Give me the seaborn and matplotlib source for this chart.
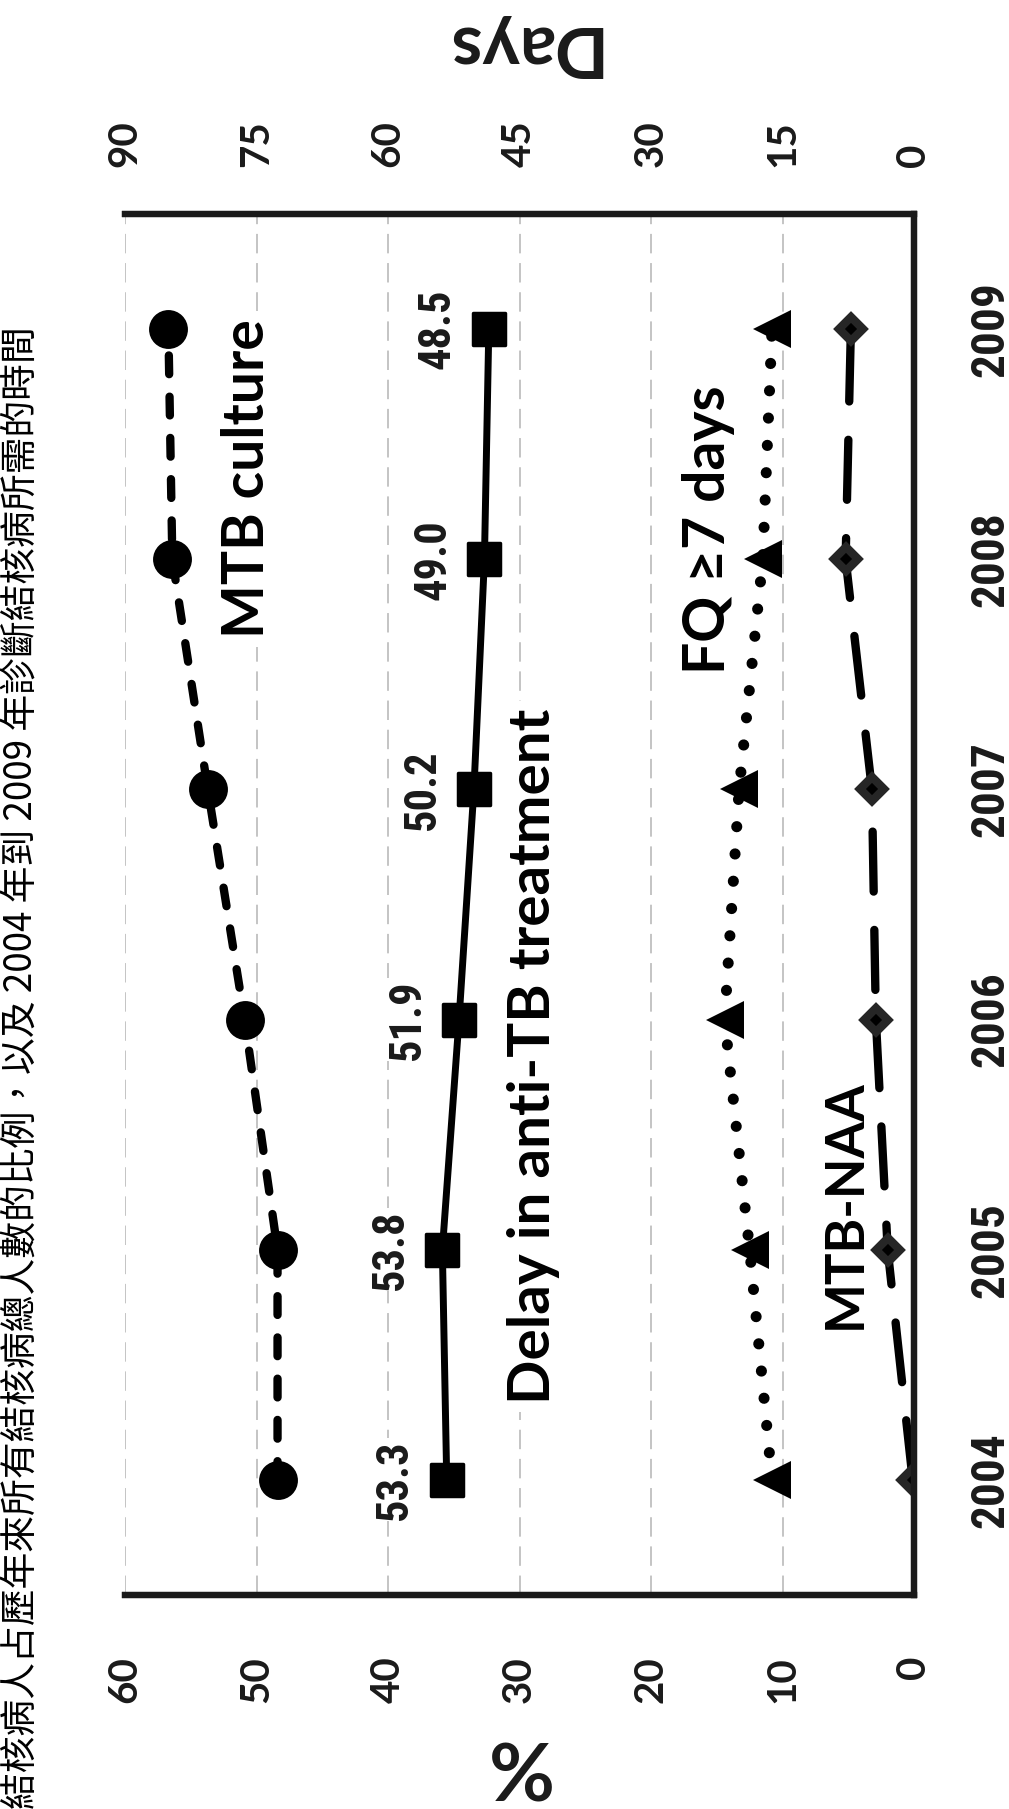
import matplotlib
matplotlib.use('Agg')
import matplotlib.pyplot as plt
import seaborn as sns
from matplotlib import font_manager
from matplotlib.markers import MarkerStyle

# Data
years = [2004, 2005, 2006, 2007, 2008, 2009]
mtb_culture = [48.4, 48.4, 50.9, 53.7, 56.4, 56.7]   # %
fq_7days = [10.8, 12.5, 14.4, 13.3, 11.5, 10.8]      # %
mtb_naa = [0.1, 2.0, 2.9, 3.2, 5.2, 4.8]             # %
delay_days = [53.3, 53.8, 51.9, 50.2, 49.0, 48.5]    # days
delay_labels = ['53.3', '53.8', '51.9', '50.2', '49.0', '48.5']
pct_ticks = [0, 10, 20, 30, 40, 50, 60]
day_ticks = [0, 15, 30, 45, 60, 75, 90]
title = '結核病人占歷年來所有結核病總人數的比例，以及 2004 年到 2009 年診斷結核病所需的時間'

sns.set_style('white')
fonts = font_manager.fontManager.ttflist
names = {f.name for f in fonts}
bold_font = 'Lato' if 'Lato' in names else 'DejaVu Sans'
plt.rcParams['font.family'] = [bold_font, 'DejaVu Sans']

# condensed font for year / value labels, if one is installed
narrow = dict(family=bold_font, fontstretch='normal')
year_size, value_size = 29, 28.5
for cand in ['Liberation Sans Narrow', 'Arial Narrow', 'Roboto Condensed',
             'Open Sans Condensed', 'Noto Sans Condensed']:
    if cand in names:
        narrow = dict(family=cand, fontstretch='normal')
        year_size, value_size = 34, 32
        break
else:
    if any(f.name == 'DejaVu Sans' and f.stretch == 'condensed' and f.weight in ('bold', 700)
           for f in fonts):
        narrow = dict(family='DejaVu Sans', fontstretch='condensed')
        year_size, value_size = 29, 29

W, H = 1009, 1809
fig = plt.figure(figsize=(W / 100, H / 100), dpi=100)
ax = fig.add_axes([125 / W, (H - 1595) / H, (914 - 125) / W, (1595 - 214) / H])

# percentage series
sns.lineplot(x=mtb_culture, y=years, orient='y', sort=False, ax=ax, color='black',
             linewidth=6, linestyle=(0, (2.25, 2.7)), dash_capstyle='round',
             marker='o', markersize=28, markerfacecolor='black',
             markeredgecolor='black', markeredgewidth=0)
sns.lineplot(x=fq_7days, y=years, orient='y', sort=False, ax=ax, color='black',
             linewidth=8, linestyle=(0, (0.01, 2.45)), dash_capstyle='round',
             marker='<', markersize=27, markerfacecolor='black',
             markeredgecolor='black', markeredgewidth=0)
sns.lineplot(x=mtb_naa, y=years, orient='y', sort=False, ax=ax, color='black',
             linewidth=6, linestyle=(0, (7.2, 4.6)), dash_capstyle='round',
             marker='D', markersize=12, markerfacecolor='black',
             markeredgecolor='#262626', markeredgewidth=6)

ax.set_xlim(60, 0)
ax.set_ylim(2003.5, 2009.5)
ax.set_xticks(pct_ticks)
ax.set_xticklabels([str(t) for t in pct_ticks], rotation=90, fontsize=29, fontweight='bold')
ax.set_yticks(years)
ax.yaxis.tick_right()
ax.set_yticklabels([str(y) for y in years], rotation=90, fontsize=year_size,
                   fontweight='bold', va='center', **narrow)
ax.tick_params(axis='x', length=0, pad=44, colors='#1a1a1a')
ax.tick_params(axis='y', length=0, pad=39, colors='#1a1a1a')
ax.grid(axis='x', color='#c4c4c4', linewidth=1.4, linestyle=(0, (10, 5)), zorder=0)
ax.grid(axis='y', visible=False)
ax.set_xlabel('')
ax.set_ylabel('')

# days axis
ax2 = ax.twiny()
sns.lineplot(x=delay_days, y=years, orient='y', sort=False, ax=ax2, color='black',
             linewidth=5, marker=MarkerStyle('s', joinstyle='round'), markersize=23,
             markerfacecolor='black', markeredgecolor='black', markeredgewidth=2.5)
ax2.set_xlim(90, 0)
ax2.set_xticks(day_ticks)
ax2.set_xticklabels([str(t) for t in day_ticks], rotation=90, fontsize=29, fontweight='bold')
ax2.tick_params(axis='x', length=0, pad=34, colors='#1a1a1a')
ax2.set_xlabel('')
ax2.set_ylabel('')

for a in (ax, ax2):
    for side, sp in a.spines.items():
        sp.set_color('#1a1a1a')
        sp.set_linewidth(4.5)
    a.spines['left'].set_visible(False)

for v, yr, lab in zip(delay_days, years, delay_labels):
    ax2.annotate(lab, (v, yr), xytext=(-37, 0), textcoords='offset points',
                 rotation=90, ha='center', va='center', fontsize=value_size,
                 fontweight='bold', color='#1a1a1a',
                 bbox=dict(facecolor='white', edgecolor='none', pad=1), **narrow)

box = dict(facecolor='white', edgecolor='none', pad=6)
ax.text(50.7, 2008.35, 'MTB culture', rotation=90, ha='center', va='center',
        fontsize=41, fontweight='bold', color='black', bbox=box, zorder=3)
ax.text(28.96, 2005.84, 'Delay in anti-TB treatment', rotation=90, ha='center', va='center',
        fontsize=42, fontweight='bold', color='black', bbox=box, zorder=3)
ax.text(15.66, 2008.13, 'FQ ≥7 days', rotation=90, ha='center', va='center',
        fontsize=41, fontweight='bold', color='black', zorder=3)
ax.text(5.25, 2005.2, 'MTB-NAA', rotation=90, ha='center', va='center',
        fontsize=38, fontweight='bold', color='black', zorder=3)

fig.text(519 / W, 1 - 47 / H, 'Days', rotation=180, ha='center', va='center',
         fontsize=51, fontweight='bold', color='#1a1a1a')
fig.text(516 / W, 1 - 1764 / H, '%', rotation=180, ha='center', va='center',
         fontsize=58, fontweight='bold', color='#1a1a1a')
fig.text(21 / W, 1 - 1068 / H, title, rotation=90, ha='center', va='center',
         fontsize=26.5, color='black', family=['Noto Sans CJK TC', 'DejaVu Sans'])

fig.savefig('out.png', dpi=100, facecolor='white')
